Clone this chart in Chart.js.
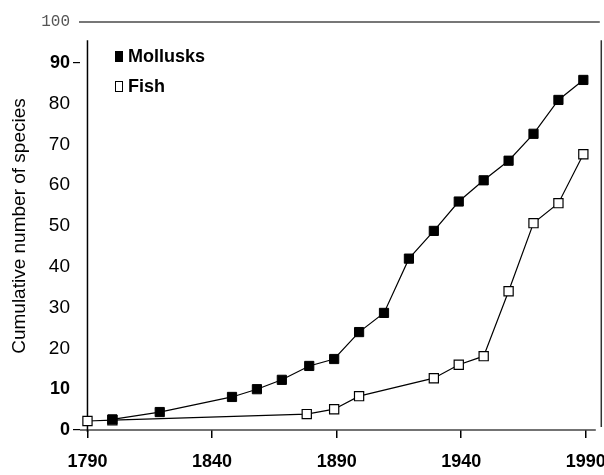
<!DOCTYPE html>
<html>
<head>
<meta charset="utf-8">
<script src="https://cdn.jsdelivr.net/npm/chart.js@4.4.0/dist/chart.umd.min.js"></script>
<style>
  body { margin: 0; background: #fff; overflow: hidden; }
</style>
</head>
<body>
<canvas id="chart" width="604" height="475"></canvas>
<script>
// data
const molluskYears = [1800, 1819, 1848, 1858, 1868, 1879, 1889, 1899, 1909, 1919, 1929, 1939, 1949, 1959, 1969, 1979, 1989];
const molluskCounts = [2.6, 4.4, 8.1, 10, 12.3, 15.7, 17.4, 24, 28.7, 42, 48.8, 56, 61.2, 66, 72.6, 80.9, 85.8];
const fishYears = [1790, 1800, 1878, 1889, 1899, 1929, 1939, 1949, 1959, 1969, 1979, 1989];
const fishCounts = [2.2, 2.4, 3.9, 5.1, 8.3, 12.7, 16, 18.1, 34, 50.7, 55.6, 67.6];
const xTicks = [1790, 1840, 1890, 1940, 1990];
const yTicks = [0, 10, 20, 30, 40, 50, 60, 70, 80, 90, 100];
const seriesNames = ['Mollusks', 'Fish'];

const toPoints = (xs, ys) => xs.map((x, i) => ({ x: x, y: ys[i] }));

// axis lines and the little legend drawn by hand, like the scan
const framePlugin = {
    id: 'frame',
    beforeDatasetsDraw(chart) {
        const { ctx, chartArea, scales } = chart;
        const xs = scales.x, ys = scales.y;
        const y0 = ys.getPixelForValue(0);
        const yTop = ys.getPixelForValue(95.5);
        ctx.save();
        // gray line at 100
        ctx.strokeStyle = '#777';
        ctx.lineWidth = 2;
        ctx.beginPath();
        ctx.moveTo(chartArea.left - 1, ys.getPixelForValue(100));
        ctx.lineTo(xs.getPixelForValue(1995.6), ys.getPixelForValue(100));
        ctx.stroke();
        // x axis
        ctx.strokeStyle = '#444';
        ctx.lineWidth = 1.5;
        ctx.beginPath();
        ctx.moveTo(chartArea.left, y0);
        ctx.lineTo(xs.getPixelForValue(1994), y0);
        ctx.stroke();
        // y axis
        ctx.strokeStyle = '#000';
        const xa = xs.getPixelForValue(1790);
        ctx.beginPath();
        ctx.moveTo(xa, y0 + 2);
        ctx.lineTo(xa, yTop);
        ctx.stroke();
        // right edge
        const xr = xs.getPixelForValue(1996.2);
        ctx.strokeStyle = '#333';
        ctx.beginPath();
        ctx.moveTo(xr, yTop);
        ctx.lineTo(xr, y0 - 3);
        ctx.stroke();
        ctx.restore();
    },
    afterDatasetsDraw(chart) {
        const { ctx, chartArea } = chart;
        ctx.save();
        ctx.font = 'bold 18px "Liberation Sans", Arial, sans-serif';
        ctx.textBaseline = 'middle';
        chart.data.datasets.forEach((ds, i) => {
            const cy = chartArea.top + 35 + i * 30;
            const lx = chartArea.left + 35;
            ctx.fillStyle = ds.pointBackgroundColor;
            ctx.strokeStyle = '#000';
            ctx.lineWidth = 1;
            ctx.fillRect(lx, cy - 6, 8, 11);
            ctx.strokeRect(lx + 0.5, cy - 5.5, 7, 10);
            ctx.fillStyle = '#000';
            ctx.fillText(ds.label, lx + 13, cy);
        });
        ctx.restore();
    }
};

new Chart(document.getElementById('chart'), {
    type: 'line',
    data: {
        datasets: [{
            label: seriesNames[0],
            data: toPoints(molluskYears, molluskCounts),
            borderColor: '#000',
            borderWidth: 1.2,
            pointStyle: 'rect',
            pointRadius: 6.5,
            pointBackgroundColor: '#000',
            pointBorderColor: '#000',
            pointBorderWidth: 1
        }, {
            label: seriesNames[1],
            data: toPoints(fishYears, fishCounts),
            borderColor: '#000',
            borderWidth: 1.2,
            pointStyle: 'rect',
            pointRadius: 6.5,
            pointBackgroundColor: '#fff',
            pointBorderColor: '#000',
            pointBorderWidth: 1.2
        }]
    },
    options: {
        responsive: false,
        animation: false,
        layout: { padding: { top: 22, right: 2, left: 0, bottom: 0 } },
        plugins: {
            legend: { display: false },
            tooltip: { enabled: false }
        },
        scales: {
            x: {
                type: 'linear',
                min: 1787,
                max: 1994.2,
                afterBuildTicks: (scale) => { scale.ticks = xTicks.map(v => ({ value: v })); },
                afterFit: (scale) => {
                    scale.height = 45;
                    scale.paddingLeft = 0;
                    scale.paddingRight = 0;
                },
                border: { display: false },
                grid: {
                    drawOnChartArea: false,
                    drawTicks: true,
                    tickLength: 8,
                    color: '#000',
                    lineWidth: 1.5
                },
                ticks: {
                    maxRotation: 0,
                    padding: 13,
                    color: '#000',
                    font: { family: '"Liberation Sans", Arial, sans-serif', size: 18, weight: 'bold' },
                    callback: (v) => String(v)
                }
            },
            y: {
                min: 0,
                max: 100,
                afterBuildTicks: (scale) => { scale.ticks = yTicks.map(v => ({ value: v })); },
                afterFit: (scale) => { scale.width = 80; },
                border: { display: false },
                grid: {
                    drawOnChartArea: false,
                    drawTicks: true,
                    tickLength: 7,
                    lineWidth: 1.2,
                    tickColor: (c) => (c.tick && (c.tick.value === 90 || c.tick.value === 0)) ? '#000' : 'rgba(0,0,0,0)'
                },
                ticks: {
                    padding: 3,
                    color: (c) => c.tick && c.tick.value === 100 ? '#555' : '#000',
                    font: (c) => {
                        const v = c.tick ? c.tick.value : 0;
                        if (v === 100) return { family: '"Liberation Mono", monospace', size: 16, weight: 'normal' };
                        if (v === 0 || v === 10 || v === 90) return { family: '"Liberation Sans", Arial, sans-serif', size: 18, weight: 'bold' };
                        return { family: '"Liberation Sans", Arial, sans-serif', size: 19, weight: 'normal' };
                    }
                },
                title: {
                    display: true,
                    text: 'Cumulative number of species',
                    color: '#000',
                    padding: { top: 8, bottom: 0 },
                    font: { family: '"Liberation Sans", Arial, sans-serif', size: 19, weight: 'normal' }
                }
            }
        }
    },
    plugins: [framePlugin]
});
</script>
</body>
</html>
